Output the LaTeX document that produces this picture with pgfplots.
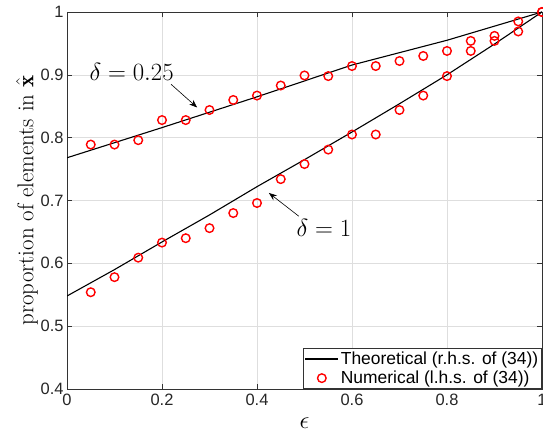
\documentclass[border=0pt]{standalone}
\usepackage{pgfplots}
\pgfplotsset{compat=1.18}
\usepackage{pgfplotstable}
\usepackage{fontspec}
\usetikzlibrary{arrows.meta}
\newfontfamily\helv{Liberation Sans}

\pgfplotsset{
  lineleg/.style={legend image code/.code={\draw[##1] (0bp,0bp) -- (33bp,0bp);}},
  markleg/.style={legend image code/.code={\draw[##1] plot coordinates {(16.5bp,0bp)};}},
}

\pgfplotstableread{
x y
0 0.768
0.2 0.816
0.4 0.865
0.6 0.9156
0.8 0.955
1 1
}\theoA
\pgfplotstableread{
x y
0 0.548
0.1 0.590
0.2 0.634
0.3 0.677
0.4 0.722
0.5 0.765
0.6 0.809
0.7 0.854
0.8 0.900
0.9 0.949
1 1
}\theoB
\pgfplotstableread{
x y
0.05 0.789
0.10 0.789
0.15 0.796
0.20 0.828
0.25 0.828
0.30 0.844
0.35 0.860
0.40 0.867
0.45 0.883
0.50 0.899
0.55 0.898
0.60 0.914
0.65 0.914
0.70 0.922
0.75 0.930
0.80 0.938
0.85 0.954
0.90 0.962
0.95 0.985
1.00 1.000
}\numA
\pgfplotstableread{
x y
0.05 0.554
0.10 0.578
0.15 0.609
0.20 0.633
0.25 0.640
0.30 0.656
0.35 0.680
0.40 0.696
0.45 0.734
0.50 0.758
0.55 0.781
0.60 0.805
0.65 0.805
0.70 0.844
0.75 0.867
0.80 0.898
0.85 0.938
0.90 0.954
0.95 0.969
1.00 1.000
}\numB

\begin{document}
\begin{tikzpicture}
\begin{axis}[
  scale only axis, width=475bp, height=377bp,
  xmin=0, xmax=1, ymin=0.4, ymax=1,
  xtick={0,0.2,0.4,0.6,0.8,1},
  ytick={0.4,0.5,0.6,0.7,0.8,0.9,1},
  grid=major, grid style={color=black!13, line width=0.5bp},
  tick align=inside, major tick length=5bp,
  axis line style={color=black!80, line width=0.6bp},
  tick style={color=black!80, line width=0.6bp},
  ticklabel style={font=\helv\fontsize{16.5}{18}\selectfont, color=black!85},
  xticklabel style={yshift=-2bp},
  /pgf/number format/assume math mode=true,
  ylabel={proportion of elements in $\hat{\mathbf{x}}$},
  ylabel style={font=\fontsize{23}{25}\selectfont, yshift=-4bp},
  xlabel={$\epsilon$},
  xlabel style={font=\fontsize{23}{25}\selectfont, yshift=-5bp},
  legend style={at={(rel axis cs:1,0)}, anchor=south east,
    font=\helv\fontsize{17.5}{19}\selectfont, draw=black!80, line width=0.6bp,
    inner sep=1.5bp, row sep=1bp, column sep=0bp},
  legend cell align=left,
]
\coordinate (bl) at (rel axis cs:0,0);
\coordinate (tr) at (rel axis cs:1,1);
\addplot[black, line width=1.1bp, lineleg] table[x=x,y=y] {\theoA};
\addlegendentry{Theoretical (r.h.s. of (34))}
\addplot[only marks, mark=o, red, mark size=4.3bp, line width=1.4bp, markleg] table[x=x,y=y] {\numA};
\addlegendentry{Numerical (l.h.s. of (34))}
\addplot[black, line width=1.1bp, forget plot] table[x=x,y=y] {\theoB};
\addplot[only marks, mark=o, red, mark size=4.3bp, line width=1.4bp, forget plot] table[x=x,y=y] {\numB};
\node[font=\fontsize{23}{25}\selectfont] at (axis cs:0.136,0.905) {$\delta=0.25$};
\draw[-{Stealth[length=8bp,width=6bp]}, line width=0.6bp] (axis cs:0.219,0.885) -- (axis cs:0.274,0.848);
\node[font=\fontsize{23}{25}\selectfont] at (axis cs:0.541,0.656) {$\delta=1$};
\draw[-{Stealth[length=8bp,width=6bp]}, line width=0.6bp] (axis cs:0.488,0.675) -- (axis cs:0.425,0.712);
\end{axis}
\pgfresetboundingbox
\useasboundingbox ([shift={(-67bp,-41bp)}]bl) rectangle ([shift={(1bp,12bp)}]tr);
\end{tikzpicture}
\end{document}
